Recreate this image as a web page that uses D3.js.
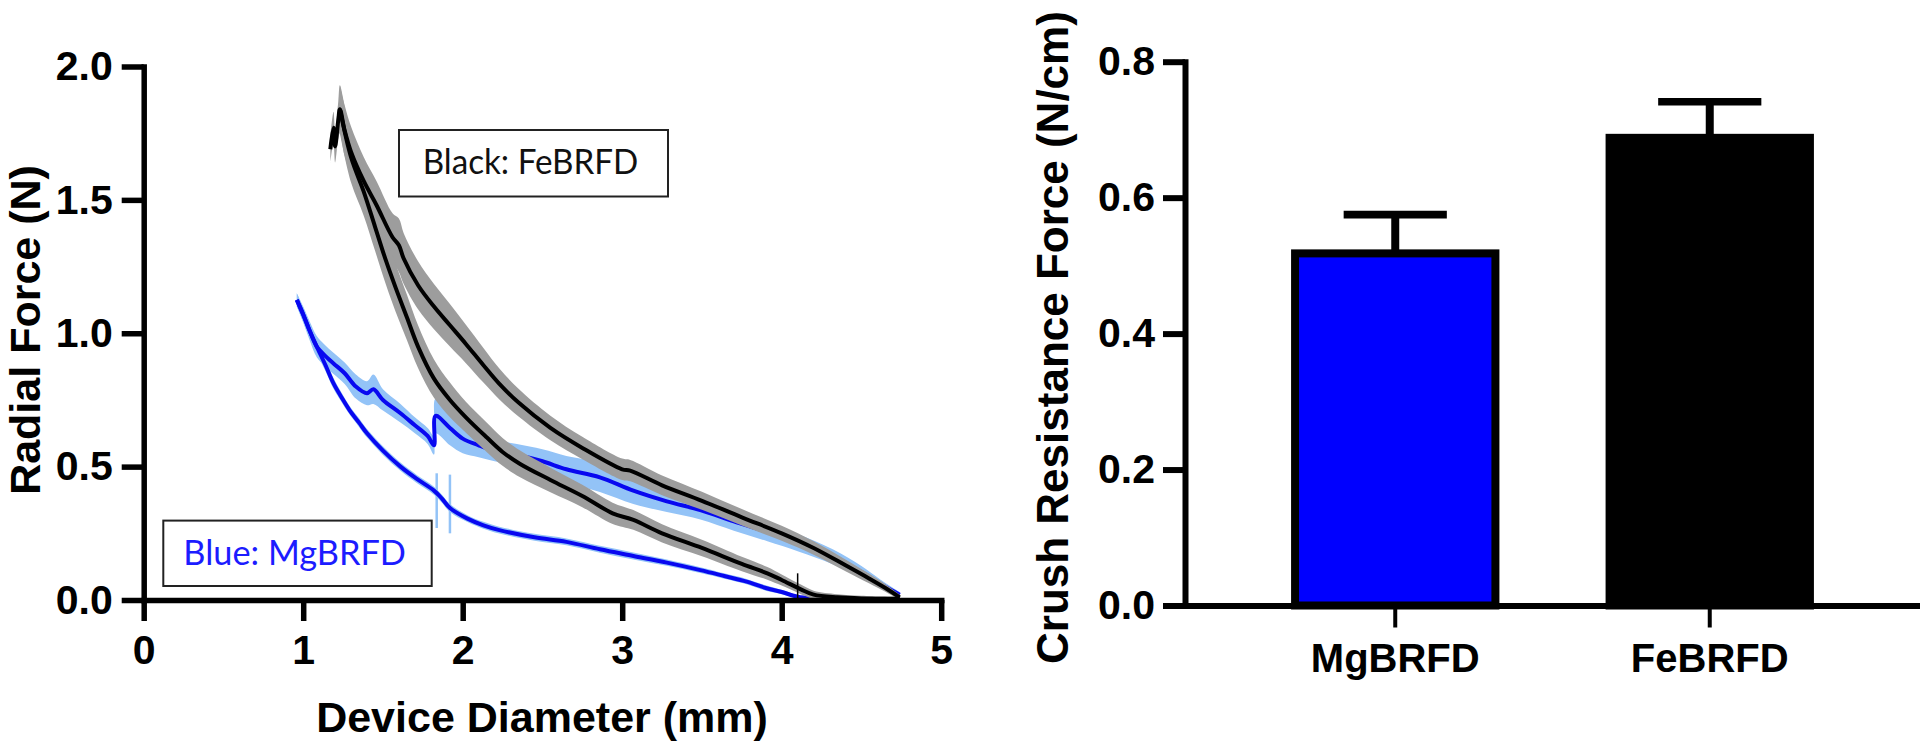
<!DOCTYPE html>
<html><head><meta charset="utf-8">
<script src="https://cdn.jsdelivr.net/npm/d3@7"></script>
<style>
body{margin:0;background:#fff}
svg{display:block}
text{font-family:'Liberation Sans',Arial,Helvetica,sans-serif}
</style>
</head><body>
<svg id="c" width="1920" height="742"></svg>
<script>
// ---------- data: left panel (Radial Force vs Device Diameter) ----------
const feLoadX  = [1.17,1.19,1.20,1.22,1.23,1.26,1.30,1.38,1.46,1.56,1.60,1.63,1.72,1.82,1.92,2.02,2.13,2.23,2.35,2.55,2.75,3.00,3.05,3.25,3.50,3.75,4.00,4.20,4.40,4.55,4.65,4.74];
const feLoadY  = [1.69,1.77,1.70,1.80,1.84,1.76,1.68,1.57,1.48,1.36,1.33,1.28,1.18,1.10,1.03,0.96,0.88,0.81,0.74,0.645,0.57,0.49,0.485,0.43,0.372,0.31,0.25,0.195,0.13,0.08,0.045,0.01];
const feLoadSD = [0.05,0.06,0.06,0.07,0.09,0.095,0.095,0.09,0.09,0.09,0.10,0.095,0.09,0.085,0.08,0.072,0.065,0.058,0.052,0.046,0.042,0.04,0.04,0.037,0.034,0.031,0.028,0.025,0.022,0.018,0.014,0.01];

const feUnloadX  = [1.23,1.30,1.38,1.45,1.52,1.58,1.65,1.72,1.82,1.92,2.02,2.15,2.25,2.36,2.55,2.75,2.94,3.07,3.25,3.50,3.75,3.91,4.00,4.12,4.20,4.35,4.50,4.74];
const feUnloadY  = [1.84,1.66,1.53,1.40,1.27,1.17,1.06,0.95,0.83,0.75,0.685,0.61,0.555,0.51,0.45,0.39,0.325,0.30,0.25,0.195,0.135,0.10,0.075,0.04,0.02,0.01,0.006,0.005];
const feUnloadSD = [0.09,0.095,0.09,0.09,0.09,0.09,0.085,0.08,0.072,0.065,0.058,0.055,0.052,0.05,0.046,0.042,0.04,0.037,0.034,0.031,0.027,0.024,0.021,0.018,0.015,0.012,0.01,0.008];

const mgLoadX  = [0.96,1.00,1.04,1.085,1.13,1.19,1.26,1.33,1.40,1.44,1.50,1.61,1.70,1.78,1.82,1.83,1.92,2.00,2.10,2.20,2.34,2.50,2.65,2.86,3.07,3.28,3.49,3.70,3.91,4.10,4.32,4.50,4.62,4.74];
const mgLoadY  = [1.125,1.07,1.01,0.95,0.92,0.887,0.85,0.80,0.775,0.79,0.75,0.70,0.655,0.615,0.58,0.69,0.645,0.605,0.58,0.56,0.545,0.52,0.49,0.46,0.41,0.37,0.337,0.295,0.255,0.215,0.162,0.105,0.06,0.02];
const mgLoadSD = [0.025,0.03,0.035,0.04,0.04,0.04,0.04,0.045,0.045,0.055,0.04,0.035,0.03,0.03,0.035,0.065,0.065,0.055,0.045,0.04,0.04,0.045,0.05,0.055,0.05,0.04,0.035,0.035,0.035,0.032,0.028,0.022,0.016,0.01];

const mgUnloadX  = [0.96,1.00,1.04,1.085,1.14,1.19,1.24,1.29,1.35,1.40,1.50,1.61,1.71,1.82,1.87,1.92,2.03,2.13,2.23,2.45,2.65,2.86,3.07,3.28,3.49,3.64,3.78,3.90,4.00,4.10,4.20,4.45,4.74];
const mgUnloadY  = [1.125,1.07,1.01,0.95,0.88,0.812,0.76,0.712,0.665,0.625,0.56,0.50,0.455,0.41,0.38,0.345,0.305,0.28,0.262,0.235,0.218,0.19,0.165,0.14,0.112,0.09,0.069,0.045,0.03,0.012,0.006,0.004,0.004];
const mgUnloadSD = [0.025,0.025,0.025,0.025,0.022,0.02,0.018,0.016,0.016,0.016,0.016,0.015,0.015,0.015,0.015,0.015,0.013,0.013,0.013,0.013,0.013,0.013,0.013,0.012,0.011,0.01,0.01,0.01,0.008,0.006,0.005,0.005,0.005];

const mgSpikeX  = [1.837, 1.92];
const mgSpikeLo = [0.27, 0.25];
const mgSpikeHi = [0.475, 0.47];
const feSpikeX  = [4.10];
const feSpikeLo = [0.0];
const feSpikeHi = [0.10];

const leftXTicks = [0,1,2,3,4,5];
const leftYTicks = [0,0.5,1.0,1.5,2.0];
const legendFe = "Black: FeBRFD";
const legendMg = "Blue: MgBRFD";
const leftXTitle = "Device Diameter (mm)";
const leftYTitle = "Radial Force (N)";

// ---------- data: right panel (bar chart) ----------
const barCategories = ["MgBRFD","FeBRFD"];
const barValues = [0.518, 0.688];
const barErrors = [0.057, 0.053];
const rightYTicks = [0,0.2,0.4,0.6,0.8];
const rightYTitle = "Crush Resistance Force (N/cm)";

// ---------- styles ----------
const C = {
  black:"#000", grey:"#9d9d9d", blue:"#0808f0", lightBlue:"#93c3f7",
  barFill:{MgBRFD:"#0000ff", FeBRFD:"#000000"}, legendBlue:"#1c1cff"
};

const svg = d3.select("#c");
svg.append("rect").attr("width",1920).attr("height",742).attr("fill","#fff");

// ================= LEFT PANEL =================
const x1 = d3.scaleLinear().domain([0,5]).range([143.7, 941.2]);
const y1 = d3.scaleLinear().domain([0,2]).range([600, 66.5]);

const zipS = (xs,ys,sd)=>xs.map((x,i)=>({x, y:ys[i], sd:sd[i]}));
const feLoad = zipS(feLoadX,feLoadY,feLoadSD);
const feUnload = zipS(feUnloadX,feUnloadY,feUnloadSD);
const mgLoad = zipS(mgLoadX,mgLoadY,mgLoadSD);
const mgUnload = zipS(mgUnloadX,mgUnloadY,mgUnloadSD);

const area = d3.area().x(d=>x1(d.x)).y0(d=>y1(Math.max(0,d.y-d.sd))).y1(d=>y1(d.y+d.sd)).curve(d3.curveCatmullRom.alpha(0.5));
const line = d3.line().x(d=>x1(d.x)).y(d=>y1(d.y)).curve(d3.curveCatmullRom.alpha(0.5));

const plot = svg.append("g");
// blue bands
[mgLoad, mgUnload].forEach(s=>plot.append("path").attr("d",area(s)).attr("fill",C.lightBlue));
// blue spikes
mgSpikeX.forEach((x,i)=>plot.append("line").attr("x1",x1(x)).attr("x2",x1(x))
  .attr("y1",y1(mgSpikeLo[i])).attr("y2",y1(mgSpikeHi[i])).attr("stroke",C.lightBlue).attr("stroke-width",2.5));
// blue lines
[mgLoad, mgUnload].forEach(s=>plot.append("path").attr("d",line(s)).attr("fill","none")
  .attr("stroke",C.blue).attr("stroke-width",4).attr("stroke-linejoin","round"));
// grey bands
[feLoad, feUnload].forEach(s=>plot.append("path").attr("d",area(s)).attr("fill",C.grey));
// black lines
[feLoad, feUnload].forEach(s=>plot.append("path").attr("d",line(s)).attr("fill","none")
  .attr("stroke",C.black).attr("stroke-width",4).attr("stroke-linejoin","round"));
feSpikeX.forEach((x,i)=>plot.append("line").attr("x1",x1(x)).attr("x2",x1(x))
  .attr("y1",y1(feSpikeLo[i])).attr("y2",y1(feSpikeHi[i])).attr("stroke",C.black).attr("stroke-width",1.5));

// axes
const yAxL = svg.append("g").attr("transform","translate(143.7,0)")
  .call(d3.axisLeft(y1).tickValues(leftYTicks).tickFormat(d3.format(".1f")).tickSize(22).tickSizeOuter(0).tickPadding(9));
const xAxL = svg.append("g").attr("transform","translate(0,600)")
  .call(d3.axisBottom(x1).tickValues(leftXTicks).tickFormat(d3.format("d")).tickSize(21).tickSizeOuter(0).tickPadding(14));
[yAxL,xAxL].forEach(g=>{
  g.select(".domain").attr("stroke","#000").attr("stroke-width",5.5).attr("stroke-linecap","square");
  g.selectAll(".tick line").attr("stroke","#000").attr("stroke-width",5.5);
  g.selectAll(".tick text").attr("fill","#000").style("font-size","41px").style("font-weight","bold");
});

// titles
svg.append("text").attr("transform","translate(40,330) rotate(-90)").attr("text-anchor","middle")
  .style("font-size","43px").style("font-weight","bold").text(leftYTitle);
svg.append("text").attr("x",542).attr("y",731.5).attr("text-anchor","middle")
  .style("font-size","43px").style("font-weight","bold").text(leftXTitle);

// legend boxes
function legend(x0,y0,x2,y2,tx,ty,tw,label,color){
  svg.append("rect").attr("x",x0).attr("y",y0).attr("width",x2-x0).attr("height",y2-y0)
    .attr("fill","#fff").attr("stroke","#222").attr("stroke-width",2);
  svg.append("text").attr("x",tx).attr("y",ty).attr("textLength",tw).attr("lengthAdjust","spacingAndGlyphs")
    .style("font-family","Lato,'Open Sans',sans-serif").style("font-size","34px").attr("fill",color).text(label);
}
legend(399,130,668,196.5,422.7,174,215.6,legendFe,"#111");
legend(163.3,520.6,431.7,586,183.3,565,222.7,legendMg,C.legendBlue);

// ================= RIGHT PANEL =================
const x2 = d3.scaleBand().domain(barCategories).range([1185,1920]).paddingInner(0.363).paddingOuter(0.35);
const y2 = d3.scaleLinear().domain([0,0.8]).range([605.5, 61.7]);

const bars = svg.append("g");
barCategories.forEach((c,i)=>{
  const v = barValues[i], e = barErrors[i];
  const cx = x2(c) + x2.bandwidth()/2;
  const capW = x2.bandwidth()*0.515;
  bars.append("line").attr("x1",cx).attr("x2",cx).attr("y1",y2(v)).attr("y2",y2(v+e))
    .attr("stroke","#000").attr("stroke-width",8);
  bars.append("line").attr("x1",cx-capW/2).attr("x2",cx+capW/2).attr("y1",y2(v+e)).attr("y2",y2(v+e))
    .attr("stroke","#000").attr("stroke-width",7.6);
  bars.append("rect").attr("x",x2(c)).attr("width",x2.bandwidth())
    .attr("y",y2(v)).attr("height",y2(0)-y2(v))
    .attr("fill",C.barFill[c]).attr("stroke","#000").attr("stroke-width",8);
});

const yAxR = svg.append("g").attr("transform","translate(1185,0)")
  .call(d3.axisLeft(y2).tickValues(rightYTicks).tickFormat(d3.format(".1f")).tickSize(22).tickSizeOuter(0).tickPadding(8));
const xAxR = svg.append("g").attr("transform","translate(0,605.5)")
  .call(d3.axisBottom(x2).tickSize(22).tickSizeOuter(0).tickPadding(16));
yAxR.select(".domain").attr("stroke","#000").attr("stroke-width",6).attr("stroke-linecap","square");
yAxR.selectAll(".tick line").attr("stroke","#000").attr("stroke-width",6);
yAxR.selectAll(".tick text").attr("fill","#000").style("font-size","41px").style("font-weight","bold");
xAxR.select(".domain").attr("stroke","#000").attr("stroke-width",6);
xAxR.selectAll(".tick line").attr("stroke","#000").attr("stroke-width",4);
xAxR.selectAll(".tick text").attr("fill","#000").style("font-size","40px").style("font-weight","bold");

svg.append("text").attr("transform","translate(1068,664) rotate(-90)").attr("text-anchor","start")
  .style("font-size","44px").style("font-weight","bold").text(rightYTitle);
</script>
</body></html>
